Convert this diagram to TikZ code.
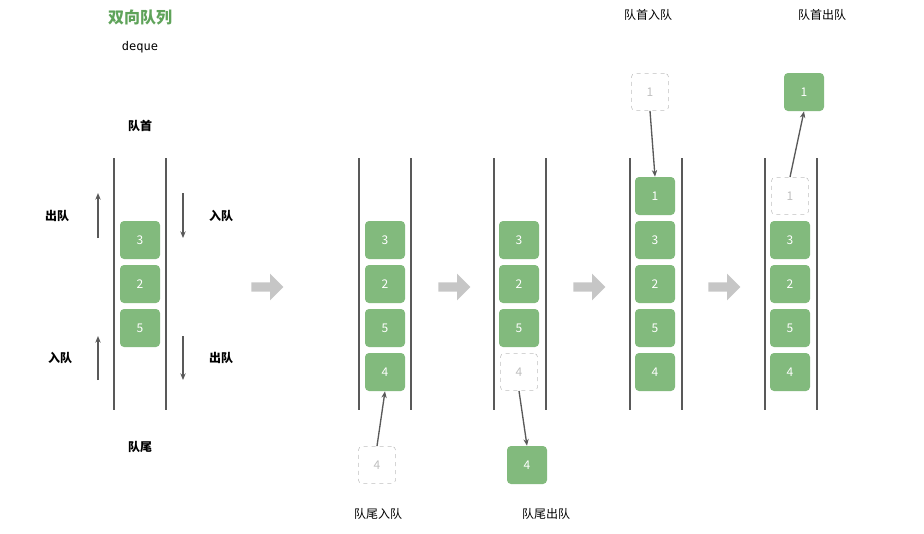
\documentclass[tikz,border=0pt]{standalone}
\usepackage{fontspec}
\setmainfont{Noto Sans CJK SC}
\newfontfamily\monof{DejaVu Sans Mono}
\usetikzlibrary{arrows.meta,shapes.arrows}
\definecolor{qg}{HTML}{82BA7D}
\definecolor{tg}{HTML}{5FA35A}
\begin{document}
\begin{tikzpicture}[x=0.75pt,y=-0.75pt,
 box/.style={draw=none,fill=qg,rounded corners=3pt,minimum width=30pt,minimum height=28.5pt,text=white,font=\small},
 dbox/.style={draw=gray!50,dashed,fill=white,rounded corners=3pt,minimum width=28pt,minimum height=28pt,text=gray!50,font=\small},
 wall/.style={gray!70!black,line width=0.8pt},
 arr/.style={-{Stealth[length=5pt,width=4pt]},gray!70!black,line width=1pt},
 lbl/.style={font=\small},
 blbl/.style={font=\small\bfseries},
 big/.style={single arrow,fill=gray!45,draw=none,minimum height=24pt,minimum width=20pt,single arrow head extend=4pt,inner sep=2pt}]
\useasboundingbox (0,0) rectangle (924,533);
\node[text=tg,font=\large\bfseries] (t) at (140,18) {双向队列};
\node[font=\monof\small] (d) at (140,47) {deque};
\node[blbl] (h) at (140,126) {队首};
\node[blbl] (r) at (140,447) {队尾};
% column 1
\draw[wall] (114,158) -- (114,410); \draw[wall] (166,158) -- (166,410);
\node[box] (a3) at (140,240) {3};
\node[box] (a2) at (140,284) {2};
\node[box] (a5) at (140,328) {5};
\coordinate (p1) at (98,238); \coordinate (p2) at (98,193);
\draw[arr] (p1) -- (p2);
\coordinate (p3) at (183,193); \coordinate (p4) at (183,238);
\draw[arr] (p3) -- (p4);
\coordinate (p5) at (98,380); \coordinate (p6) at (98,336);
\draw[arr] (p5) -- (p6);
\coordinate (p7) at (183,336); \coordinate (p8) at (183,380);
\draw[arr] (p7) -- (p8);
\node[blbl] (l1) at (57,216) {出队};
\node[blbl] (l2) at (221,216) {入队};
\node[blbl] (l3) at (60,358) {入队};
\node[blbl] (l4) at (221,358) {出队};
% big arrows
\node[big] (g1) at (265,287) {};
\node[big] (g2) at (452,287) {};
\node[big] (g3) at (587,287) {};
\node[big] (g4) at (722,287) {};
% column 2
\draw[wall] (359,158) -- (359,410); \draw[wall] (411,158) -- (411,410);
\node[box] (b3) at (385,240) {3};
\node[box] (b2) at (385,284) {2};
\node[box] (b5) at (385,328) {5};
\node[box] (b4) at (385,372) {4};
\node[dbox] (bn) at (377,465) {4};
\draw[arr] (bn.north) -- (b4.south);
\node[lbl] (bl) at (378,514) {队尾入队};
% column 3
\draw[wall] (494,158) -- (494,410); \draw[wall] (546,158) -- (546,410);
\node[box] (c3) at (519,240) {3};
\node[box] (c2) at (519,284) {2};
\node[box] (c5) at (519,328) {5};
\node[dbox] (c4) at (519,372) {4};
\node[box] (cn) at (527,465) {4};
\draw[arr] (c4.south) -- (cn.north);
\node[lbl] (cl) at (546,514) {队尾出队};
% column 4
\draw[wall] (630,158) -- (630,410); \draw[wall] (682,158) -- (682,410);
\node[box] (e1) at (655,196) {1};
\node[box] (e3) at (655,240) {3};
\node[box] (e2) at (655,284) {2};
\node[box] (e5) at (655,328) {5};
\node[box] (e4) at (655,372) {4};
\node[dbox] (en) at (650,92) {1};
\draw[arr] (en.south) -- (e1.north);
\node[lbl] (el) at (648,15) {队首入队};
% column 5
\draw[wall] (765,158) -- (765,410); \draw[wall] (817,158) -- (817,410);
\node[dbox] (f1) at (790,196) {1};
\node[box] (f3) at (790,240) {3};
\node[box] (f2) at (790,284) {2};
\node[box] (f5) at (790,328) {5};
\node[box] (f4) at (790,372) {4};
\node[box] (fn) at (804,92) {1};
\draw[arr] (f1.north) -- (fn.south);
\node[lbl] (fl) at (822,15) {队首出队};
\end{tikzpicture}
\end{document}
